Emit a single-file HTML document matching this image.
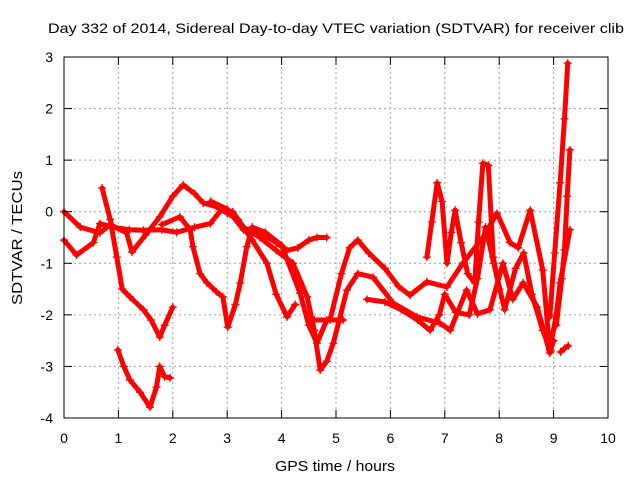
<!DOCTYPE html>
<html><head><meta charset="utf-8"><style>
body{margin:0;background:#fff;width:640px;height:480px;overflow:hidden}
text{font-family:"Liberation Sans",sans-serif;fill:#000}
</style></head><body>
<svg id="chart" width="640" height="480">
<text x="336" y="33" font-size="14" text-anchor="middle" textLength="576" lengthAdjust="spacingAndGlyphs">Day 332 of 2014, Sidereal Day-to-day VTEC variation (SDTVAR) for receiver clib</text>
<text x="335" y="471" font-size="14.5" text-anchor="middle" textLength="120" lengthAdjust="spacingAndGlyphs">GPS time / hours</text>
<text transform="translate(22,238) rotate(-90)" font-size="14.5" text-anchor="middle" textLength="134" lengthAdjust="spacingAndGlyphs">SDTVAR / TECUs</text>
<g id="grid"></g><g id="series"></g><g id="axes"></g>
</svg>
<script>
const xTicks=[0,1,2,3,4,5,6,7,8,9,10];
const yTicks=[3,2,1,0,-1,-2,-3,-4];
const track1=[[0,0],[0.3,-0.3],[0.66,-0.41],[0.85,-0.25],[1.15,-0.41],[1.25,-0.78],[1.5,-0.45],[1.76,-0.1],[2.0,0.3],[2.19,0.52],[2.4,0.35],[2.56,0.17],[2.8,0.1],[3.0,-0.03],[3.2,-0.15],[3.46,-0.55],[3.73,-1.0],[3.9,-1.6],[4.1,-2.04],[4.25,-1.8]];
const track2=[[0,-0.55],[0.23,-0.84],[0.54,-0.6],[0.66,-0.23],[0.9,-0.3],[1.2,-0.35],[1.46,-0.36],[1.8,-0.35],[2.07,-0.4],[2.4,-0.3],[2.69,-0.23],[2.9,0.05],[3.1,0.0],[3.3,-0.3],[3.6,-0.5],[3.9,-0.75],[4.21,-1.0],[4.47,-1.65],[4.6,-2.3],[4.71,-3.07],[4.83,-2.9],[4.95,-2.55],[5.2,-1.52],[5.4,-1.2],[5.68,-1.27],[6.05,-1.77],[6.49,-2.04],[6.91,-2.16],[7.1,-2.3],[7.4,-1.52],[7.6,-1.98],[7.83,-1.9],[8.07,-1.0],[8.25,-1.7],[8.44,-1.38],[8.7,-1.85],[8.93,-2.74],[9.0,-2.5]];
const track3=[[0.7,0.46],[0.85,-0.15],[0.97,-0.88],[1.07,-1.5],[1.21,-1.65],[1.46,-1.9],[1.6,-2.1],[1.76,-2.43],[1.85,-2.2],[2.0,-1.85]];
const track4=[[0.99,-2.68],[1.1,-3.0],[1.21,-3.26],[1.4,-3.5],[1.58,-3.79],[1.7,-3.4],[1.76,-3.0],[1.85,-3.2],[1.95,-3.22]];
const track5=[[1.8,-0.25],[2.13,-0.1],[2.32,-0.35],[2.37,-0.68],[2.5,-1.2],[2.63,-1.38],[2.8,-1.55],[2.92,-1.65],[3.01,-2.24],[3.15,-1.8],[3.24,-1.38],[3.36,-0.68],[3.46,-0.3],[3.7,-0.4],[4.0,-0.65],[4.34,-1.58],[4.5,-2.2],[4.65,-2.55],[4.83,-2.1],[5.13,-2.1]];
const track6=[[2.7,0.2],[3.0,0.05],[3.3,-0.35],[3.6,-0.4],[3.9,-0.6],[4.1,-0.75],[4.3,-0.7],[4.5,-0.55],[4.65,-0.5],[4.83,-0.5]];
const track7=[[4.6,-2.1],[4.89,-2.1],[5.1,-1.2],[5.25,-0.7],[5.4,-0.55],[5.6,-0.8],[5.9,-1.1],[6.15,-1.45],[6.36,-1.62],[6.67,-1.36],[7.04,-1.46],[7.33,-1.0],[7.7,-0.5],[7.96,-0.03],[8.2,-0.6],[8.35,-0.7],[8.57,0.03],[8.8,-1.13],[8.93,-2.68],[9.05,-2.0],[9.12,-1.38],[9.3,-0.35]];
const track8=[[5.57,-1.7],[5.9,-1.75],[6.2,-1.9],[6.5,-2.1],[6.73,-2.3],[6.9,-2.0],[7.0,-1.6],[7.2,-1.95],[7.45,-2.0],[7.6,-1.3],[7.75,-0.3],[7.9,-1.0],[8.1,-1.9],[8.3,-1.1],[8.45,-0.8],[8.6,-1.6],[8.8,-2.3],[8.95,-2.7]];
const track9=[[6.67,-0.88],[6.76,-0.2],[6.86,0.56],[6.95,0.2],[7.04,-1.0],[7.12,-0.4],[7.19,0.03],[7.3,-0.6],[7.42,-1.2],[7.55,-1.38],[7.62,-0.2],[7.7,0.94],[7.8,0.9],[7.89,-0.88],[8.0,-1.5]];
const track10=[[8.93,-2.04],[9.02,-0.8],[9.12,0.56],[9.2,1.8],[9.26,2.88]];
const track11=[[9.05,-2.2],[9.15,-1.3],[9.2,-0.74],[9.25,0.3],[9.3,1.2]];
const track12=[[9.13,-2.72],[9.2,-2.65],[9.27,-2.6]];
const tracks=[track1,track2,track3,track4,track5,track6,track7,track8,track9,track10,track11,track12];
const X0=64,X1=608,Y0=57,Y1=418;
const xs=h=>X0+(h-0)/10*(X1-X0);
const ys=v=>Y0+(3-v)/7*(Y1-Y0);
const NS='http://www.w3.org/2000/svg';
function mk(tag,attrs,parent){const e=document.createElementNS(NS,tag);for(const k in attrs)e.setAttribute(k,attrs[k]);parent.appendChild(e);return e;}
const grid=document.getElementById('grid'),axes=document.getElementById('axes'),ser=document.getElementById('series');
xTicks.forEach(t=>{const x=xs(t);
 if(t>0&&t<10){const g=mk('line',{x1:x,x2:x,y1:Y0,y2:Y1,stroke:'#a0a0a0','stroke-dasharray':'2,3'},grid);
 
 }
 mk('line',{x1:x,x2:x,y1:Y1,y2:Y1-8,stroke:'#000'},axes);
 mk('line',{x1:x,x2:x,y1:Y0,y2:Y0+8,stroke:'#000'},axes);
 const l=mk('text',{x:x,y:443,'font-size':14,'text-anchor':'middle'},axes);l.textContent=t;
 
 
});
yTicks.forEach(t=>{const y=ys(t);
 if(t<3&&t>-4){const g=mk('line',{x1:X0,x2:X1,y1:y,y2:y,stroke:'#a0a0a0','stroke-dasharray':'2,3'},grid);
 
 }
 mk('line',{x1:X0,x2:X0+8,y1:y,y2:y,stroke:'#000'},axes);
 mk('line',{x1:X1,x2:X1-8,y1:y,y2:y,stroke:'#000'},axes);
 const l=mk('text',{x:53,y:y+5,'font-size':14,'text-anchor':'end'},axes);l.textContent=t;
 
 
});
const fr=mk('rect',{x:X0,y:Y0,width:X1-X0,height:Y1-Y0,fill:'none',stroke:'#000'},axes);


tracks.forEach((tr,i)=>{
 const g=mk('g',{},ser);
 
 
 mk('polyline',{points:tr.map(p=>xs(p[0])+','+ys(p[1])).join(' '),fill:'none',stroke:'#f00','stroke-width':5,'stroke-linejoin':'round','stroke-linecap':'round'},g);
 tr.forEach(p=>{const x=xs(p[0]),y=ys(p[1]);
  const m=mk('path',{d:`M${x-4},${y}h8M${x},${y-4}v8`,stroke:'#f00','stroke-width':1.3},g);
  
  
 });
});
</script>
</body></html>
